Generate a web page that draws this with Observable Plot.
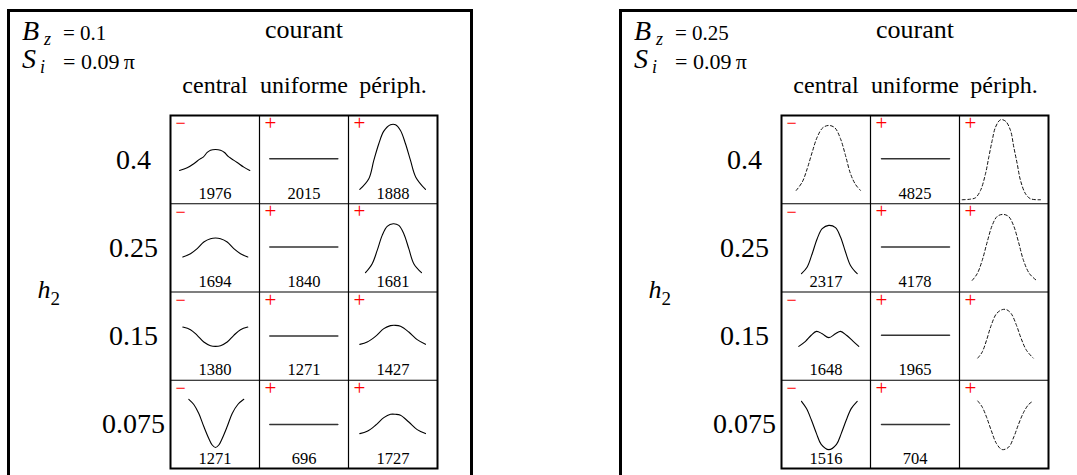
<!DOCTYPE html>
<html><head><meta charset="utf-8">
<script src="https://cdn.jsdelivr.net/npm/d3@7"></script>
<script src="https://cdn.jsdelivr.net/npm/@observablehq/plot@0.6"></script>
<style>
html,body{margin:0;padding:0;background:#fff;width:1077px;height:475px;overflow:hidden;}
.panel{position:absolute;top:9px;width:466px;height:490px;box-sizing:border-box;border:3px solid #000;}
.panel svg{position:absolute;left:0;top:0;}
</style></head><body>
<div class="panel" id="p1" style="left:7px"></div>
<div class="panel" id="p2" style="left:619px"></div>
<script>
// ---- categories / labels ----
const currentTypes = ["central", "uniforme", "périph."];
const h2Values = ["0.4", "0.25", "0.15", "0.075"];
const bzValues = ["0.1", "0.25"];
const siValue = "0.09";

// ---- numbers printed in the cells ----
const freqBz01 = [
  ["1976", "2015", "1888"],
  ["1694", "1840", "1681"],
  ["1380", "1271", "1427"],
  ["1271", "696", "1727"]
];
const freqBz025 = [
  ["", "4825", ""],
  ["2317", "4178", ""],
  ["1648", "1965", ""],
  ["1516", "704", ""]
];
const signsBz01 = [["−","+","+"],["−","+","+"],["−","+","+"],["−","+","+"]];
const signsBz025 = [["−","+","+"],["−","+","+"],["−","+","+"],["−","+","+"]];
const dashedBz01 = [[false,false,false],[false,false,false],[false,false,false],[false,false,false]];
const dashedBz025 = [[true,false,true],[false,false,true],[false,false,true],[false,false,true]];

// ---- profiles: [position across cell, height above cell bottom] in cell units (89 x 88.25) ----
const profilesBz01 = [
  [
    [[9,33.3],[16.7,36],[23.3,40],[29.3,44.6],[32.7,46.6],[36.7,51.3],[40,53.6],[45,54.3],[50,53.6],[54,51.3],[57.7,47.3],[61,45],[66.7,41.3],[73.3,36.6],[79.3,33.3]],
    [[10.3,45],[78.3,45]],
    [[11.3,14.3],[20.3,25],[25.3,43.3],[30.3,60],[35.3,72.6],[42,79],[47,79],[52,73.3],[57,60],[62,43.3],[67.3,26.6],[77,14.3]]
  ],
  [
    [[12.3,35],[20,38.3],[26.7,43.3],[33.3,50],[40,53.3],[45,54],[50,53.3],[56.7,50],[63.3,43.3],[70,38.3],[77.3,35]],
    [[10.3,45],[78.3,45]],
    [[17,19.3],[23.7,28.3],[28.7,41.6],[33.7,56.6],[38.7,65.6],[44.7,68.3],[50.3,66.6],[55.3,58.3],[60.3,43.3],[65.3,28.3],[73,19.3]]
  ],
  [
    [[12.3,53.2],[20,50.6],[26.7,44.9],[33.3,38.2],[40,34.6],[45,33.9],[50,34.6],[56.7,38.2],[63.3,44.9],[70,50.6],[77.3,53.2]],
    [[10.3,44.2],[78.3,44.2]],
    [[11.3,35.9],[18.7,38.2],[27,43.9],[35.3,51.6],[42,54.6],[47,54.9],[52,53.9],[60.3,48.2],[68.7,40.6],[77,35.9]]
  ],
  [
    [[18.3,69.2],[23.3,64],[28.3,55],[33.3,42],[38.3,30],[41.7,23.5],[45,21],[48.3,23.5],[51.7,30],[56.7,42],[61.7,55],[67.3,64],[73.3,69.2]],
    [[10.3,43.9],[78.3,43.9]],
    [[11.3,34.9],[18.7,37.2],[27,43.2],[35.3,50.9],[42,54.2],[47,54.2],[52,53.2],[60.3,46.5],[68.7,38.9],[77,34.9]]
  ]
];
const profilesBz025 = [
  [
    [[14.7,13.3],[20.7,21.6],[25.7,35],[30.7,51.6],[35.7,66.6],[41.3,76],[47.3,78.3],[53.3,76],[59,65],[64,48.3],[69,30],[74,19.3],[79,13.3]],
    [[11,45],[79,45]],
    [[2.7,4],[11,4.6],[16,6],[21,13.3],[26,30],[29.3,46.6],[32.7,63.3],[36,76.6],[41,84],[46,82.6],[51,73.3],[54.3,56.6],[57.7,40],[61,23.3],[66,10],[71,5],[81,4]]
  ],
  [
    [[20,18.3],[25.7,25],[30.7,38.3],[35.7,53.3],[40.7,63.3],[47.3,66.6],[54,64.3],[59,55],[64,40],[69,26.6],[75.7,18.3]],
    [[11,45],[79,45]],
    [[12.7,11.6],[17.7,18.3],[22.7,31.6],[27.7,50],[32.7,66.6],[37.7,75.6],[43.5,77.6],[49,75.6],[54,66.6],[59,50],[64,31.6],[70,18.3],[77,11.6]]
  ],
  [
    [[17.3,33.9],[24,38.9],[29.7,45],[35,48.9],[40.7,46.5],[47.3,42.6],[54,46.5],[59,48.9],[65,45],[71.7,38.9],[77.3,33.9]],
    [[11,44.9],[79,44.9]],
    [[18.3,22.2],[22.7,28.2],[27,39.9],[31.7,54.9],[37,66.6],[42.7,70.6],[47,70.6],[51.7,66.6],[57,54.9],[61.7,41.6],[67,29.9],[73.7,22.2]]
  ],
  [
    [[20,67.2],[25,59.9],[30,48.2],[35,34.9],[39.7,24.2],[47.3,18.9],[55,24.2],[59.7,34.9],[64.7,48.2],[69.7,59.9],[75.7,67.2]],
    [[11,43.9],[79,43.9]],
    [[18.3,67.5],[22.7,61.5],[27,51.5],[31.7,38.2],[37,24.9],[42.7,18.9],[49.3,21.5],[54.3,31.5],[59.3,44.9],[64.3,56.5],[69.3,64.2],[73.7,67.5]]
  ]
];

const CW = 89, CH = 88.25, NR = 4, NC = 3;
const SERIF = "'Liberation Serif', 'Times New Roman', serif";

function drawPanel(el, cfg) {
  const pts = [];
  cfg.profiles.forEach((row, r) => row.forEach((cell, c) => cell.forEach(([lx, h]) => pts.push({
    cell: r + "-" + c, dashed: cfg.dashed[r][c], flat: cell.length === 2,
    x: c * CW + lx, y: (NR - 1 - r) * CH + h
  }))));
  const cells = [];
  for (let r = 0; r < NR; r++) for (let c = 0; c < NC; c++)
    cells.push({r, c, sign: cfg.signs[r][c], num: cfg.numbers[r][c]});
  const svg = Plot.plot({
    width: 460, height: 463,
    marginTop: 103, marginBottom: 7, marginLeft: cfg.marginLeft, marginRight: cfg.marginRight,
    x: {domain: [0, NC * CW], axis: null},
    y: {domain: [0, NR * CH], axis: null},
    style: {fontFamily: SERIF, background: "transparent", overflow: "visible", color: "#000"},
    marks: [
      Plot.ruleX(d3.range(1, NC).map(i => i * CW), {y1: 0, y2: NR * CH, stroke: "#000", strokeWidth: 1.2}),
      Plot.ruleY(d3.range(1, NR).map(i => i * CH), {x1: 0, x2: NC * CW, stroke: "#000", strokeWidth: 1.2}),
      Plot.frame({stroke: "#000", strokeWidth: 2}),
      Plot.line(pts.filter(d => d.flat), {x: "x", y: "y", z: "cell", stroke: "#333", strokeWidth: 1.5}),
      Plot.line(pts.filter(d => !d.flat && !d.dashed), {x: "x", y: "y", z: "cell", curve: "catmull-rom", stroke: "#000", strokeWidth: 1.1}),
      Plot.line(pts.filter(d => !d.flat && d.dashed), {x: "x", y: "y", z: "cell", curve: "catmull-rom", stroke: "#111", strokeWidth: 1, strokeDasharray: "3,2.5"}),
      Plot.text(cells, {x: d => d.c * CW, y: d => (NR - d.r) * CH, text: "sign", dx: 5, dy: 8,
        textAnchor: "start", lineAnchor: "middle", fill: "#f00", fontSize: d => d.sign === "+" ? 21 : 18}),
      Plot.text(cells.filter(d => d.num), {x: d => d.c * CW + CW / 2, y: d => (NR - 1 - d.r) * CH + 5,
        text: "num", lineAnchor: "bottom", fontSize: 16.5, fill: "#000"}),
      Plot.text(h2Values, {x: 0, y: (d, i) => (NR - 1 - i) * CH + CH / 2, text: d => d, dx: -37,
        lineAnchor: "middle", fontSize: 28, fill: "#000"}),
      Plot.text(currentTypes, {x: (d, i) => i * CW + CW / 2, y: NR * CH, text: d => d, dy: -23,
        lineAnchor: "bottom", fontSize: 24, fill: "#000"}),
      Plot.text(["courant"], {x: NC * CW / 2, y: NR * CH, text: d => d, dy: -78,
        lineAnchor: "bottom", fontSize: 26, fill: "#000"}),
      Plot.text(["h"], {x: 0, y: NR * CH / 2, text: d => d, dx: -133, dy: -2, textAnchor: "start",
        lineAnchor: "middle", fontSize: 26, fontStyle: "italic", fill: "#000"}),
      Plot.text(["2"], {x: 0, y: NR * CH / 2, text: d => d, dx: -120, dy: 12.5, textAnchor: "start",
        lineAnchor: "bottom", fontSize: 19, fill: "#000"})
    ]
  });
  // parameter header (math-like labels)
  const g = d3.select(svg).append("g").attr("font-family", SERIF).attr("fill", "#000").attr("text-anchor", "start");
  g.append("text").attr("x", 12).attr("y", 28).attr("font-size", 28).attr("font-style", "italic").text("B");
  g.append("text").attr("x", 34).attr("y", 33).attr("font-size", 18).attr("font-style", "italic").text("z");
  g.append("text").attr("x", 53).attr("y", 28).attr("font-size", 21).attr("xml:space", "preserve").text("= " + cfg.bz);
  g.append("text").attr("x", 12).attr("y", 56).attr("font-size", 28).attr("font-style", "italic").text("S");
  g.append("text").attr("x", 30).attr("y", 61).attr("font-size", 18).attr("font-style", "italic").text("i");
  g.append("text").attr("x", 53).attr("y", 57).attr("font-size", 22).attr("xml:space", "preserve").text("= " + siValue + "\u2009π");
  el.appendChild(svg);
}

drawPanel(document.getElementById("p1"), {
  profiles: profilesBz01, dashed: dashedBz01, numbers: freqBz01, signs: signsBz01,
  bz: bzValues[0], marginLeft: 160, marginRight: 33
});
drawPanel(document.getElementById("p2"), {
  profiles: profilesBz025, dashed: dashedBz025, numbers: freqBz025, signs: signsBz025,
  bz: bzValues[1], marginLeft: 159, marginRight: 34
});
</script></body></html>
